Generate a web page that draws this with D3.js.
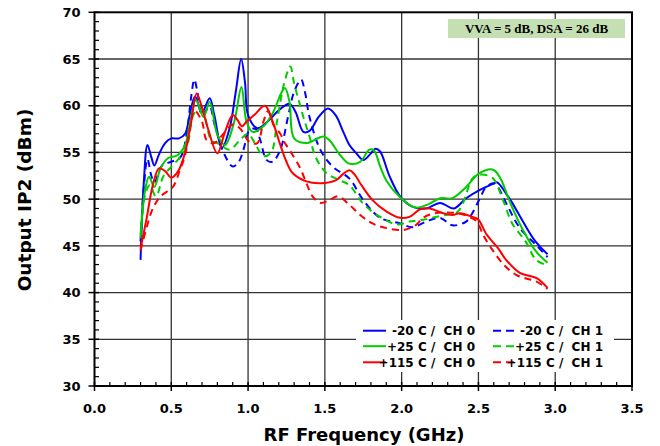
<!DOCTYPE html>
<html><head><meta charset="utf-8">
<script src="https://cdn.jsdelivr.net/npm/d3@7"></script>
<style>
html,body{margin:0;padding:0;background:#fff;}
svg{display:block;}
text{font-family:"DejaVu Sans",Verdana,sans-serif;font-weight:bold;}
</style></head>
<body>
<svg id="c" width="660" height="446"></svg>
<script>
// ---- data ----
const xTicks = [0.0, 0.5, 1.0, 1.5, 2.0, 2.5, 3.0, 3.5];
const yTicks = [30, 35, 40, 45, 50, 55, 60, 65, 70];
const seriesNames = ["-20 C /  CH 0", "-20 C /  CH 1", "+25 C /  CH 0", "+25 C /  CH 1", "+115 C /  CH 0", "+115 C /  CH 1"];
const seriesColors = ["#0000ff", "#0000ff", "#00cc00", "#00cc00", "#ff0000", "#ff0000"];
const seriesDashed = [false, true, false, true, false, true];

const m20ch0 = [[0.30,43.5],[0.32,51.5],[0.345,55.8],[0.37,54.5],[0.39,53.6],[0.42,54.8],[0.46,56.0],[0.50,56.5],[0.55,56.5],[0.59,57.0],[0.62,59.0],[0.655,61.0],[0.70,59.3],[0.75,60.8],[0.78,59.0],[0.83,55.5],[0.88,57.6],[0.92,61.5],[0.955,65.0],[0.98,62.5],[1.00,59.0],[1.06,57.6],[1.12,58.2],[1.20,59.5],[1.27,60.2],[1.31,59.3],[1.36,57.2],[1.40,57.3],[1.46,58.8],[1.52,59.7],[1.57,59.0],[1.62,57.2],[1.66,55.8],[1.70,55.0],[1.75,54.2],[1.80,54.9],[1.83,55.4],[1.86,55.1],[1.92,52.5],[1.99,50.3],[2.07,49.2],[2.16,49.0],[2.25,49.6],[2.34,49.0],[2.42,50.1],[2.51,51.0],[2.59,51.6],[2.62,51.8],[2.68,50.6],[2.72,49.6],[2.79,47.6],[2.87,45.5],[2.95,44.1]];
const m20ch1 = [[0.30,45.5],[0.32,51.0],[0.345,54.3],[0.37,52.5],[0.39,51.8],[0.44,53.6],[0.50,54.0],[0.56,54.5],[0.60,57.0],[0.63,61.0],[0.65,62.8],[0.67,61.5],[0.70,59.0],[0.75,59.9],[0.78,58.1],[0.84,55.0],[0.90,53.5],[0.94,54.0],[0.97,55.3],[1.01,57.4],[1.05,57.5],[1.08,56.3],[1.12,54.2],[1.16,54.0],[1.21,55.3],[1.26,58.8],[1.30,61.5],[1.345,62.8],[1.37,61.5],[1.40,58.8],[1.47,55.3],[1.55,53.5],[1.66,52.2],[1.75,49.9],[1.86,48.0],[1.99,47.4],[2.07,47.0],[2.16,47.6],[2.25,48.0],[2.33,47.2],[2.42,47.6],[2.46,48.5],[2.51,50.1],[2.55,51.3],[2.60,51.7],[2.63,51.2],[2.68,49.6],[2.77,46.9],[2.875,45.1],[2.95,43.8]];
const p25ch0 = [[0.30,46.2],[0.33,51.0],[0.355,52.4],[0.39,51.3],[0.43,53.3],[0.48,54.4],[0.54,54.7],[0.59,55.8],[0.62,58.0],[0.66,60.6],[0.71,58.8],[0.75,60.4],[0.80,56.9],[0.85,55.8],[0.91,58.3],[0.957,62.0],[0.99,58.3],[1.03,57.2],[1.10,57.8],[1.16,59.2],[1.22,61.5],[1.24,61.9],[1.27,60.4],[1.30,56.5],[1.38,56.0],[1.49,56.7],[1.53,56.3],[1.60,54.7],[1.66,53.8],[1.73,54.0],[1.79,55.3],[1.82,55.2],[1.86,53.5],[1.90,52.0],[1.99,50.2],[2.09,49.1],[2.18,49.5],[2.25,50.1],[2.33,50.1],[2.42,51.3],[2.50,52.7],[2.58,53.2],[2.61,53.0],[2.65,52.0],[2.71,49.5],[2.79,46.7],[2.875,44.4],[2.95,43.2]];
const p25ch1 = [[0.30,45.8],[0.33,50.5],[0.36,51.5],[0.40,50.3],[0.45,52.5],[0.52,53.8],[0.58,55.0],[0.61,56.1],[0.65,59.2],[0.70,59.5],[0.76,56.3],[0.80,56.0],[0.88,55.3],[0.946,56.3],[1.00,57.0],[1.05,55.8],[1.10,54.6],[1.15,55.0],[1.19,58.5],[1.235,62.4],[1.275,64.2],[1.30,62.4],[1.36,58.8],[1.40,56.7],[1.44,54.5],[1.51,52.8],[1.60,52.0],[1.66,51.5],[1.75,49.5],[1.86,48.1],[1.97,47.3],[2.05,47.6],[2.14,47.8],[2.25,48.2],[2.36,48.6],[2.40,49.6],[2.46,52.2],[2.50,52.6],[2.59,52.3],[2.66,49.9],[2.72,47.4],[2.81,45.4],[2.875,43.5],[2.95,42.9]];
const p115ch0 = [[0.30,44.7],[0.34,48.0],[0.38,51.5],[0.42,53.3],[0.46,53.0],[0.50,52.3],[0.545,53.0],[0.59,55.0],[0.63,58.3],[0.665,61.3],[0.70,59.8],[0.74,57.5],[0.80,54.9],[0.85,57.2],[0.90,59.0],[0.93,58.5],[0.96,57.8],[0.99,58.3],[1.04,59.0],[1.11,60.0],[1.16,58.3],[1.21,55.8],[1.25,54.0],[1.29,52.8],[1.38,51.9],[1.47,51.7],[1.57,52.0],[1.62,52.7],[1.66,53.1],[1.70,52.5],[1.73,51.7],[1.81,49.9],[1.90,48.7],[1.99,48.0],[2.05,48.1],[2.12,48.9],[2.18,49.0],[2.27,48.5],[2.33,48.3],[2.38,48.5],[2.46,48.1],[2.50,47.8],[2.55,46.3],[2.63,44.7],[2.68,43.5],[2.77,42.1],[2.83,41.8],[2.885,41.5],[2.95,40.5]];
const p115ch1 = [[0.30,44.5],[0.34,47.0],[0.38,49.0],[0.43,50.3],[0.51,51.3],[0.556,53.1],[0.59,54.7],[0.62,57.5],[0.65,59.5],[0.70,58.3],[0.73,56.3],[0.78,56.0],[0.84,57.0],[0.90,58.0],[0.946,57.6],[1.01,56.1],[1.06,56.0],[1.10,58.3],[1.13,59.4],[1.17,57.8],[1.21,57.0],[1.24,56.0],[1.28,55.0],[1.34,53.3],[1.38,51.7],[1.42,50.3],[1.47,49.6],[1.53,49.9],[1.585,50.3],[1.66,49.4],[1.73,48.3],[1.81,47.4],[1.90,46.9],[2.01,46.7],[2.09,47.2],[2.14,48.0],[2.22,48.5],[2.36,48.5],[2.44,48.1],[2.49,47.6],[2.53,46.2],[2.59,44.6],[2.67,42.9],[2.745,41.9],[2.81,41.5],[2.875,41.2],[2.95,40.4]];
const seriesData = [m20ch0, m20ch1, p25ch0, p25ch1, p115ch0, p115ch1];

const xLabel = "RF Frequency (GHz)";
const yLabel = "Output IP2 (dBm)";
const noteText = "VVA = 5 dB, DSA = 26 dB";

// ---- layout ----
const L = 94.5, R = 632, T = 12.3, B = 386;
const svg = d3.select("#c");
const x = d3.scaleLinear().domain([0, 3.5]).range([L, R]);
const y = d3.scaleLinear().domain([30, 70]).range([B, T]);

// grid
const g = svg.append("g");
g.selectAll(".vg").data(xTicks.slice(1, -1)).enter().append("line")
  .attr("x1", d => x(d)).attr("x2", d => x(d)).attr("y1", T).attr("y2", B)
  .attr("stroke", "#333").attr("stroke-width", 1.3);
g.selectAll(".hg").data(yTicks.slice(1, -1)).enter().append("line")
  .attr("x1", L).attr("x2", R).attr("y1", d => y(d)).attr("y2", d => y(d))
  .attr("stroke", "#333").attr("stroke-width", 1.3);

// curves
const line = d3.line().x(d => x(d[0])).y(d => y(d[1])).curve(d3.curveCatmullRom.alpha(0.5));
seriesData.forEach((s, i) => {
  svg.append("path").datum(s).attr("d", line)
    .attr("fill", "none").attr("stroke", seriesColors[i]).attr("stroke-width", 2)
    .attr("stroke-dasharray", seriesDashed[i] ? "7,5" : null);
});

// note box
svg.append("rect").attr("x", 448).attr("y", 19).attr("width", 177).attr("height", 19).attr("fill", "#c4dfb2");
svg.append("text").attr("x", 536.5).attr("y", 32.5).attr("text-anchor", "middle")
  .style("font-family", "'Liberation Serif','Times New Roman',serif").style("font-size", "13px")
  .text(noteText);

// legend
svg.append("rect").attr("x", 356).attr("y", 320).attr("width", 258).attr("height", 52).attr("fill", "#fff");
const rowsY = [330.7, 346.2, 362.3];
seriesNames.forEach((n, i) => {
  const col = i % 2, row = Math.floor(i / 2);
  const lx = col === 0 ? 363 : 493, tx = col === 0 ? 475 : 603;
  svg.append("line").attr("x1", lx).attr("x2", lx + 23).attr("y1", rowsY[row]).attr("y2", rowsY[row])
    .attr("stroke", seriesColors[i]).attr("stroke-width", 2)
    .attr("stroke-dasharray", seriesDashed[i] ? "8,5" : null);
  svg.append("text").attr("x", tx).attr("y", rowsY[row] + 4.3).attr("text-anchor", "end")
    .style("font-size", "12px").style("white-space", "pre").attr("xml:space", "preserve").text(n);
});

// frame
svg.append("rect").attr("x", L).attr("y", T).attr("width", R - L).attr("height", B - T)
  .attr("fill", "none").attr("stroke", "#000").attr("stroke-width", 2);

// x ticks
const xMinor = d3.range(0, 35.01, 1).map(d => d / 10).filter(d => Math.abs(d * 2 - Math.round(d * 2)) > 1e-6);
svg.selectAll(".xmn").data(xMinor).enter().append("line")
  .attr("x1", d => x(d)).attr("x2", d => x(d)).attr("y1", B).attr("y2", B - 4).attr("stroke", "#000").attr("stroke-width", 1.2);
svg.selectAll(".xmj").data(xTicks).enter().append("line")
  .attr("x1", d => x(d)).attr("x2", d => x(d)).attr("y1", B - 4).attr("y2", B + 5).attr("stroke", "#000").attr("stroke-width", 1.5);
svg.selectAll(".xl").data(xTicks).enter().append("text")
  .attr("x", d => x(d)).attr("y", 413).attr("text-anchor", "middle").style("font-size", "13px")
  .text(d => d3.format(".1f")(d));

// y ticks
const yMinor = d3.range(30, 70.01, 1).filter(d => d % 5 !== 0);
svg.selectAll(".ymn").data(yMinor).enter().append("line")
  .attr("x1", L).attr("x2", L + 4.5).attr("y1", d => y(d)).attr("y2", d => y(d)).attr("stroke", "#000").attr("stroke-width", 1.2);
svg.selectAll(".ymj").data(yTicks).enter().append("line")
  .attr("x1", L - 6).attr("x2", L + 4.5).attr("y1", d => y(d)).attr("y2", d => y(d)).attr("stroke", "#000").attr("stroke-width", 1.5);
svg.selectAll(".yl").data(yTicks).enter().append("text")
  .attr("x", 80.5).attr("y", d => y(d) + 4.7).attr("text-anchor", "end").style("font-size", "13px")
  .text(d => d);

// axis titles
svg.append("text").attr("x", 364).attr("y", 441).attr("text-anchor", "middle").style("font-size", "18px").text(xLabel);
svg.append("text").attr("transform", "translate(31,200) rotate(-90)").attr("text-anchor", "middle").style("font-size", "18.5px").text(yLabel);
</script>
</body></html>
